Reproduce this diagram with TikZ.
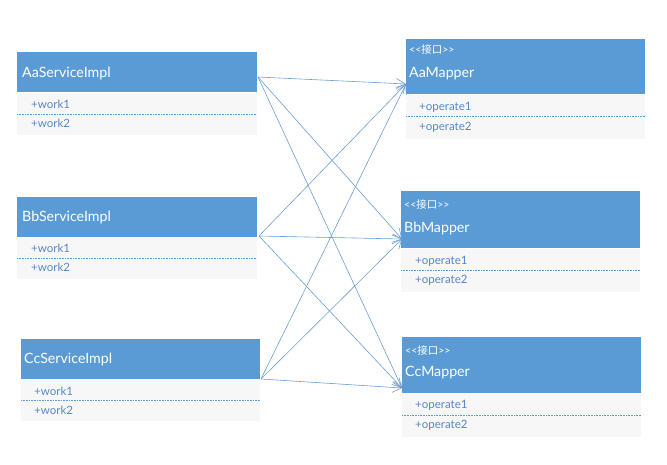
\documentclass[tikz,border=0pt]{standalone}
\usepackage{fontspec}
\setmainfont{Lato}
\newfontfamily\cjk{Noto Sans CJK SC}
\usepackage{xcolor}
\usepackage{tikz}
\usetikzlibrary{arrows.meta,positioning}

\definecolor{hdblue}{HTML}{5B9BD5}
\definecolor{bdgray}{HTML}{F7F7F7}
\definecolor{itblue}{HTML}{5588C8}
\definecolor{lnblue}{HTML}{6A9ED6}

\tikzset{
  head/.style={rectangle, fill=hdblue, inner sep=0pt, anchor=north west},
  body/.style={rectangle, fill=bdgray, inner sep=0pt, below=0pt of #1},
  title/.style={anchor=west, inner sep=0pt, text=white, font=\fontsize{14.2}{16}\selectfont},
  stereo/.style={anchor=west, inner sep=0pt, text=white, font=\fontsize{10.5}{12}\selectfont},
  item/.style={anchor=west, inner sep=0pt, text=itblue, font=\fontsize{11.5}{13}\selectfont},
  sepline/.style={draw=hdblue, line width=0.6pt, dash pattern=on 1pt off 0.6pt},
  link/.style={draw=lnblue, line width=0.6pt, -{Straight Barb[length=9pt,width=10pt]}}
}
\newcommand{\iface}{{<}{<}{\cjk 接口}{>}{>}}

\begin{document}
\begin{tikzpicture}[x=1pt,y=-1pt]
    \useasboundingbox (0,0) rectangle (667,465);

    % service classes
    \node(AS) at (17,52) [head, minimum width=240pt, minimum height=40pt] {};
    \node(ASb) [body=AS, minimum width=240pt, minimum height=42pt] {};
    \node(BS) at (17,197) [head, minimum width=240pt, minimum height=40pt] {};
    \node(BSb) [body=BS, minimum width=240pt, minimum height=41pt] {};
    \node(CS) at (21,339) [head, minimum width=239pt, minimum height=40pt] {};
    \node(CSb) [body=CS, minimum width=239pt, minimum height=41pt] {};

    \node(AStxt) at (22,73) [title] {AaServiceImpl};
    \node(BStxt) at (22,217) [title] {BbServiceImpl};
    \node(CStxt) at (24,359) [title] {CcServiceImpl};

    \node(ASw1) at (31,104) [item] {+work1};
    \node(ASw2) at (31,123) [item] {+work2};
    \node(BSw1) at (31,248) [item] {+work1};
    \node(BSw2) at (31,267) [item] {+work2};
    \node(CSw1) at (34,391) [item] {+work1};
    \node(CSw2) at (34,410) [item] {+work2};

    \draw[sepline] (17,114) -- (257,114);
    \draw[sepline] (17,258) -- (257,258);
    \draw[sepline] (21,400) -- (260,400);

    % mapper interfaces
    \node(AM) at (406,39) [head, minimum width=239pt, minimum height=55pt] {};
    \node(AMb) [body=AM, minimum width=239pt, minimum height=44pt] {};
    \node(BM) at (401,191) [head, minimum width=239pt, minimum height=57pt] {};
    \node(BMb) [body=BM, minimum width=239pt, minimum height=43pt] {};
    \node(CM) at (402,337) [head, minimum width=239pt, minimum height=56pt] {};
    \node(CMb) [body=CM, minimum width=239pt, minimum height=43pt] {};

    \node(AMst) at (409,50) [stereo] {\iface};
    \node(BMst) at (404,205) [stereo] {\iface};
    \node(CMst) at (405,351) [stereo] {\iface};

    \node(AMtxt) at (409,74) [title] {AaMapper};
    \node(BMtxt) at (404,228) [title] {BbMapper};
    \node(CMtxt) at (405,373) [title] {CcMapper};

    \node(AMo1) at (419,107) [item] {+operate1};
    \node(AMo2) at (419,127) [item] {+operate2};
    \node(BMo1) at (415,261) [item] {+operate1};
    \node(BMo2) at (415,280) [item] {+operate2};
    \node(CMo1) at (415,405) [item] {+operate1};
    \node(CMo2) at (415,425) [item] {+operate2};

    \draw[sepline] (406,116) -- (645,116);
    \draw[sepline] (401,270) -- (640,270);
    \draw[sepline] (402,415) -- (641,415);

    % connectors
    \coordinate(ASout) at (258,77);
    \coordinate(BSout) at (259,236);
    \coordinate(CSout) at (261,379);
    \coordinate(AMin) at (406,84);
    \coordinate(BMin) at (402,239);
    \coordinate(CMin) at (402,388);

    \foreach \s in {ASout,BSout,CSout}
      \foreach \m in {AMin,BMin,CMin}
        \draw[link] (\s) -- (\m);
  \end{tikzpicture}
\end{document}
